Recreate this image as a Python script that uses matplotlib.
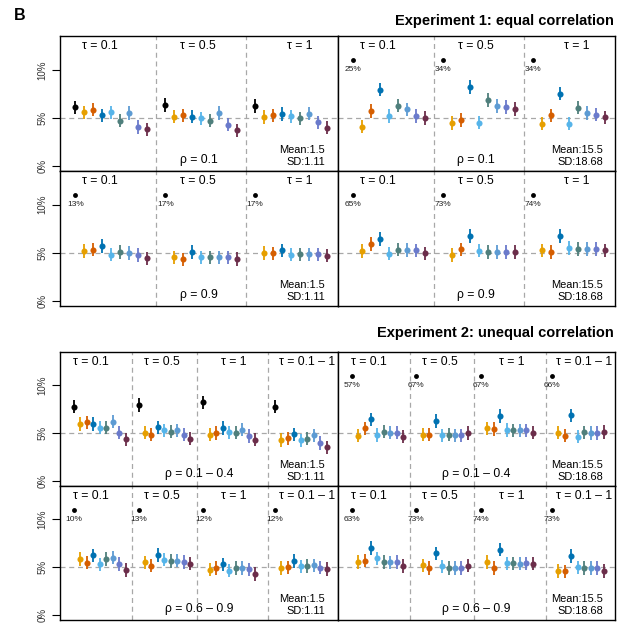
import matplotlib
matplotlib.use("Agg")
import matplotlib.pyplot as plt
import numpy as np

plt.rcParams['font.family'] = ['Liberation Sans', 'DejaVu Sans']

W, H = 627, 624

# one colour per method, black is the first estimator in each group
colors = ['#000000', '#E69F00', '#D55E00', '#0072B2', '#56B4E9',
          '#4F7F7C', '#5D9BD3', '#6A7ACB', '#6B2D4A']

tau1 = ['τ = 0.1', 'τ = 0.5', 'τ = 1']
tau2 = ['τ = 0.1', 'τ = 0.5', 'τ = 1', 'τ = 0.1 – 1']

# type I error rate (%), 9 methods per tau group
# None = off the scale, drawn as a dot near the top with its value under it
e1_rho01_small = [[6.11, 5.59, 5.87, 5.28, 5.59, 4.72, 5.52, 4.06, 3.82],
                  [6.32, 5.14, 5.28, 5.14, 4.97, 4.72, 5.49, 4.30, 3.72],
                  [6.22, 5.10, 5.28, 5.42, 5.17, 4.97, 5.45, 4.55, 3.99]]
e1_rho01_large = [[None, 4.10, 5.73, 7.95, 5.21, 6.28, 5.90, 5.21, 5.00],
                  [None, 4.48, 4.79, 8.20, 4.51, 6.84, 6.22, 6.15, 5.94],
                  [None, 4.41, 5.28, 7.53, 4.41, 6.08, 5.52, 5.35, 5.07]]
e1_rho09_small = [[None, 5.21, 5.35, 5.70, 4.83, 5.10, 5.00, 4.79, 4.44],
                  [None, 4.55, 4.34, 5.10, 4.55, 4.55, 4.55, 4.55, 4.37],
                  [None, 5.00, 4.97, 5.28, 4.83, 4.86, 4.86, 4.86, 4.72]]
e1_rho09_large = [[None, 5.21, 5.94, 6.46, 4.93, 5.35, 5.31, 5.28, 4.97],
                  [None, 4.79, 5.38, 6.74, 5.24, 5.10, 5.10, 5.10, 5.10],
                  [None, 5.28, 5.10, 6.77, 5.49, 5.42, 5.42, 5.42, 5.28]]
e1_black = {'rho01_large': ['25%', '34%', '34%'],
            'rho09_small': ['13%', '17%', '17%'],
            'rho09_large': ['65%', '73%', '74%']}

e2_rho_lo_small = [[7.75, 5.94, 6.11, 5.94, 5.56, 5.56, 6.18, 5.04, 4.34],
                   [7.92, 5.04, 4.83, 5.59, 5.28, 5.14, 5.28, 4.83, 4.41],
                   [8.20, 4.83, 5.00, 5.52, 5.07, 5.04, 5.35, 4.69, 4.31],
                   [7.75, 4.27, 4.45, 4.86, 4.24, 4.41, 4.76, 3.96, 3.51]]
e2_rho_lo_large = [[None, 4.73, 5.49, 6.43, 4.79, 5.14, 5.04, 5.04, 4.62],
                   [None, 4.83, 4.83, 6.25, 4.76, 4.83, 4.76, 4.76, 5.00],
                   [None, 5.49, 5.42, 6.77, 5.31, 5.28, 5.28, 5.28, 5.04],
                   [None, 5.04, 4.73, 6.84, 4.62, 5.07, 5.00, 5.00, 5.11]]
e2_rho_hi_small = [[None, 5.86, 5.48, 6.25, 5.31, 5.86, 6.00, 5.34, 4.69],
                   [None, 5.52, 5.17, 6.28, 5.79, 5.66, 5.69, 5.55, 5.38],
                   [None, 4.75, 4.90, 5.31, 4.65, 4.90, 4.90, 4.79, 4.30],
                   [None, 4.90, 5.00, 5.66, 5.10, 5.14, 5.21, 4.96, 4.82]]
e2_rho_hi_large = [[None, 5.55, 5.69, 7.01, 5.94, 5.55, 5.52, 5.55, 5.14],
                   [None, 5.21, 4.90, 6.46, 5.10, 4.93, 4.93, 4.93, 5.17],
                   [None, 5.55, 4.90, 6.83, 5.41, 5.41, 5.38, 5.41, 5.38],
                   [None, 4.62, 4.58, 6.18, 5.00, 4.90, 4.90, 4.90, 4.62]]
e2_black = {'rho_lo_large': ['57%', '67%', '67%', '66%'],
            'rho_hi_small': ['10%', '13%', '12%', '12%'],
            'rho_hi_large': ['63%', '73%', '74%', '73%']}

err = 0.7           # half width of the intervals (%)
offscale = 11.0     # where off-scale estimates are drawn
stats_small = ('Mean:1.5', 'SD:1.11')
stats_large = ('Mean:15.5', 'SD:18.68')

GREY = '#a8a8a8'

fig = plt.figure(figsize=(W / 100, H / 100), dpi=100)


def rect(x0, y0, x1, y1):
    return [x0 / W, 1 - y1 / H, (x1 - x0) / W, (y1 - y0) / H]


def panel(box, groups, blabels, starts, dashes, xlim, taus, tau_x,
          rho, stats, stats_x, yaxis):
    ax = fig.add_axes(rect(*box))
    ax.set_xlim(*xlim)
    ax.set_ylim(-0.5, 13.5)
    ax.axhline(5, color=GREY, ls=(0, (4, 3)), lw=0.9, zorder=0)
    for d in dashes:
        ax.axvline(d, color=GREY, ls=(0, (4, 3)), lw=0.9, zorder=0)

    for i, g in enumerate(groups):
        for j, v in enumerate(g):
            x = starts[i] + j
            if v is None:
                ax.plot(x, offscale, 'o', color='k', ms=3.5, mew=0)
                ax.text(x, 10.0, blabels[i], ha='center', va='center',
                        fontsize=6, color='#222222')
            else:
                ax.errorbar(x, v, yerr=err, fmt='o', color=colors[j],
                            ms=4.4, mew=0, elinewidth=1.3, capsize=0)

    for t, tx in zip(taus, tau_x):
        ax.text(tx, 0.925, t, transform=ax.transAxes, ha='center',
                va='center', fontsize=8.8)
    ax.text(0.5, 0.085, rho, transform=ax.transAxes, ha='center',
            va='center', fontsize=8.8)
    ax.text(stats_x, 0.153, stats[0], transform=ax.transAxes, ha='right',
            va='center', fontsize=7.9)
    ax.text(stats_x, 0.066, stats[1], transform=ax.transAxes, ha='right',
            va='center', fontsize=7.9)

    ax.set_xticks([])
    if yaxis:
        ax.set_yticks([0, 5, 10])
        ax.set_yticklabels(['0%', '5%', '10%'], rotation=90, va='center',
                           color='#333333')
        ax.tick_params(axis='y', length=6, width=0.8, labelsize=7, pad=3)
    else:
        ax.set_yticks([])
    for s in ax.spines.values():
        s.set_linewidth(1.0)
    return ax


# Experiment 1
st1 = [0, 10, 20]
ds1 = [9, 19]
xl1 = (-1.7, 29.15)
tx1 = [0.145, 0.498, 0.863]
panel((60, 36, 337.5, 171), e1_rho01_small, None, st1, ds1, xl1, tau1, tx1,
      'ρ = 0.1', stats_small, 0.955, True)
panel((337.5, 36, 615, 171), e1_rho01_large, e1_black['rho01_large'], st1,
      ds1, xl1, tau1, tx1, 'ρ = 0.1', stats_large, 0.957, False)
panel((60, 171, 337.5, 306), e1_rho09_small, e1_black['rho09_small'], st1,
      ds1, xl1, tau1, tx1, 'ρ = 0.9', stats_small, 0.955, True)
panel((337.5, 171, 615, 306), e1_rho09_large, e1_black['rho09_large'], st1,
      ds1, xl1, tau1, tx1, 'ρ = 0.9', stats_large, 0.957, False)

# Experiment 2
st2 = [0, 10, 20, 31]
ds2 = [9, 19, 30]
xl2 = (-2.1, 40.75)
tx2 = [0.112, 0.366, 0.626, 0.890]
panel((60, 351.7, 338, 485.7), e2_rho_lo_small, None, st2, ds2, xl2, tau2,
      tx2, 'ρ = 0.1 – 0.4', stats_small, 0.953, True)
panel((338, 351.7, 615, 485.7), e2_rho_lo_large, e2_black['rho_lo_large'],
      st2, ds2, xl2, tau2, tx2, 'ρ = 0.1 – 0.4', stats_large, 0.957, False)
panel((60, 485.7, 338, 620), e2_rho_hi_small, e2_black['rho_hi_small'],
      st2, ds2, xl2, tau2, tx2, 'ρ = 0.6 – 0.9', stats_small, 0.953, True)
panel((338, 485.7, 615, 620), e2_rho_hi_large, e2_black['rho_hi_large'],
      st2, ds2, xl2, tau2, tx2, 'ρ = 0.6 – 0.9', stats_large, 0.957, False)

fig.text(14 / W, 1 - 15.5 / H, 'B', fontsize=11.5, fontweight='bold',
         ha='left', va='center')
fig.text(614 / W, 1 - 21 / H, 'Experiment 1: equal correlation',
         fontsize=10.5, fontweight='bold', ha='right', va='center')
fig.text(614 / W, 1 - 332.7 / H, 'Experiment 2: unequal correlation',
         fontsize=10.5, fontweight='bold', ha='right', va='center')

fig.savefig('out.png', dpi=100)
